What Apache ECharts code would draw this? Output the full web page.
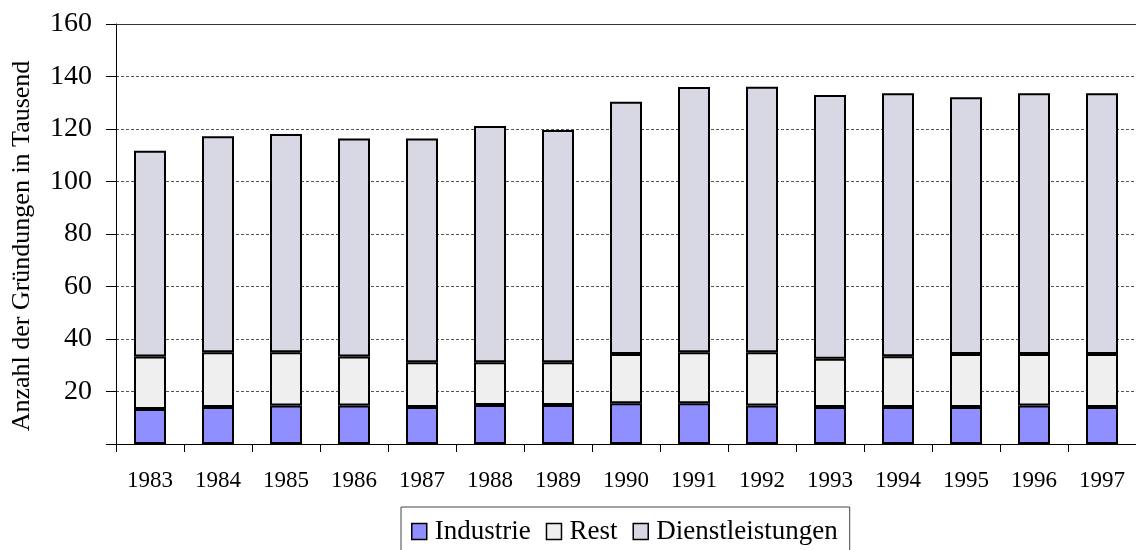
<!DOCTYPE html>
<html>
<head>
<meta charset="utf-8">
<script src="https://cdn.jsdelivr.net/npm/echarts@6/dist/echarts.min.js"></script>
<style>
    html, body { margin: 0; padding: 0; background: #fff; }
    #chart { width: 1136px; height: 550px; }
</style>
</head>
<body>
<div id="chart"></div>
<script>
// Jahre
var years = ['1983','1984','1985','1986','1987','1988','1989','1990','1991','1992','1993','1994','1995','1996','1997'];
// Gründungen in Tausend
var industrie = [13.3, 14.1, 14.7, 14.7, 14.1, 14.9, 14.9, 15.5, 15.5, 14.7, 14.1, 14.1, 14.1, 14.7, 14.1];
var rest = [20.0, 20.9, 20.3, 18.6, 17.0, 16.2, 16.2, 18.8, 19.5, 20.3, 18.4, 19.3, 20.2, 19.6, 20.2];
var dienstleistungen = [78.4, 82.2, 83.1, 83.1, 85.3, 90.0, 88.5, 96.1, 101.0, 101.1, 100.5, 100.2, 97.8, 99.3, 99.3];

var serif = '"Liberation Serif", "DejaVu Serif", serif';

function barSeries(name, data, color) {
    return {
        name: name,
        type: 'bar',
        stack: 'gesamt',
        barWidth: 32,
        data: data,
        itemStyle: { color: color, borderColor: '#000', borderWidth: 2 }
    };
}

var series = [
    barSeries('Industrie', industrie, '#8f8fff'),
    barSeries('Rest', rest, '#efefef'),
    barSeries('Dienstleistungen', dienstleistungen, '#d8d8e5')
];
// obere Begrenzung bei 160 durchgezogen
series[0].markLine = {
    silent: true,
    symbol: 'none',
    label: { show: false },
    lineStyle: { color: '#333', type: 'solid', width: 1 },
    data: [{ yAxis: 160 }]
};

var option = {
    animation: false,
    textStyle: { fontFamily: serif },
    grid: { left: 116, right: -8, top: 24, bottom: 106 },
    legend: {
        left: 401,
        top: 507,
        padding: [11, 12, 20, 10],
        borderColor: '#444',
        borderWidth: 1,
        itemGap: 15,
        itemWidth: 15,
        itemHeight: 16,
        icon: 'rect',
        itemStyle: { borderWidth: 1.5 },
        textStyle: { fontFamily: serif, fontSize: 27, color: '#000', padding: [0, 0, 0, 3] },
        data: ['Industrie', 'Rest', 'Dienstleistungen']
    },
    xAxis: {
        type: 'category',
        data: years,
        axisLine: { lineStyle: { color: '#000', width: 1 } },
        axisTick: { show: true, length: 8, interval: 0, lineStyle: { color: '#000' } },
        axisLabel: { fontFamily: serif, fontSize: 23, color: '#000', margin: 25, interval: 0 }
    },
    yAxis: {
        type: 'value',
        min: 0,
        max: 160,
        interval: 20,
        name: 'Anzahl der Gründungen in Tausend',
        nameLocation: 'middle',
        nameGap: 81,
        nameTextStyle: { fontFamily: serif, fontSize: 26, color: '#000', padding: [0, 24, 0, 0] },
        axisLine: { show: true, lineStyle: { color: '#000', width: 1 } },
        axisTick: { show: true, length: 10, lineStyle: { color: '#000' } },
        axisLabel: {
            fontFamily: serif, fontSize: 28, color: '#000', margin: 24,
            formatter: function (v) { return v === 0 ? '' : v; }
        },
        splitLine: { show: true, lineStyle: { color: '#555', type: [3, 2], width: 1 } }
    },
    series: series
};

echarts.init(document.getElementById('chart')).setOption(option);
</script>
</body>
</html>
